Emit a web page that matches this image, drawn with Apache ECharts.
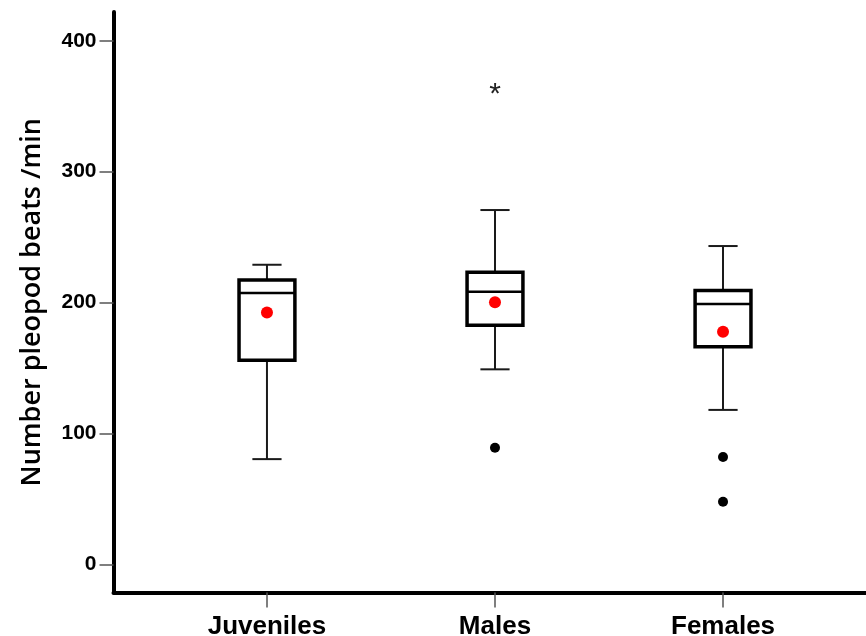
<!DOCTYPE html>
<html>
<head>
<meta charset="utf-8">
<script src="https://cdn.jsdelivr.net/npm/echarts@6/dist/echarts.min.js"></script>
<style>
html,body{margin:0;padding:0;background:#fff;}
#chart{width:866px;height:636px;}
</style>
</head>
<body>
<div id="chart"></div>
<script>
// ---- data ----
const categories = ['Juveniles', 'Males', 'Females'];
const whiskerLow  = [80.4, 149.0, 118.0];
const q1          = [156.0, 182.6, 166.2];
const median      = [207.3, 208.3, 198.9];
const q3          = [217.2, 223.1, 209.3];
const whiskerHigh = [228.9, 270.7, 243.2];
const means       = [192.5, 200.2, 177.7];
const outlierGroup = [2, 3, 3];          // 1-based category position
const outlierValue = [89.1, 82.0, 47.8];
const extremeGroup = [2];
const extremeValue = [362.3];
const yTicks = [0, 100, 200, 300, 400];
const yTitle = 'Number pleopod beats /min';

// ---- build series data ----
const boxData = categories.map((c, i) => [i + 1, whiskerLow[i], q1[i], median[i], q3[i], whiskerHigh[i]]);
const meanData = categories.map((c, i) => [i + 1, means[i]]);
const outlierData = outlierGroup.map((g, i) => [g, outlierValue[i]]);
const extremeData = extremeGroup.map((g, i) => [g, extremeValue[i]]);

const chart = echarts.init(document.getElementById('chart'), null, {renderer: 'canvas'});

function renderBox(params, api) {
  const x = api.value(0);
  const lo = api.coord([x, api.value(1)]);
  const b1 = api.coord([x, api.value(2)]);
  const md = api.coord([x, api.value(3)]);
  const b3 = api.coord([x, api.value(4)]);
  const hi = api.coord([x, api.value(5)]);
  const unit = api.size([1, 0])[0];
  const hw = unit * 0.1225;   // half box width
  const cw = unit * 0.064;    // half cap width
  const cx = lo[0];
  const thin = {stroke: '#1a1a1a', lineWidth: 2};
  return {
    type: 'group',
    children: [
      {type: 'line', shape: {x1: cx, y1: b3[1], x2: cx, y2: hi[1]}, style: thin},
      {type: 'line', shape: {x1: cx - cw, y1: hi[1], x2: cx + cw, y2: hi[1]}, style: thin},
      {type: 'line', shape: {x1: cx, y1: b1[1], x2: cx, y2: lo[1]}, style: thin},
      {type: 'line', shape: {x1: cx - cw, y1: lo[1], x2: cx + cw, y2: lo[1]}, style: thin},
      {type: 'rect', shape: {x: cx - hw, y: b3[1], width: hw * 2, height: b1[1] - b3[1]},
        style: {fill: '#fff', stroke: '#000', lineWidth: 3.5}},
      {type: 'line', shape: {x1: cx - hw, y1: md[1], x2: cx + hw, y2: md[1]},
        style: {stroke: '#000', lineWidth: 2.5}}
    ]
  };
}

const option = {
  animation: false,
  backgroundColor: '#fff',
  grid: {left: 113.5, right: 0, top: 12, bottom: 43.5, containLabel: false, outerBoundsMode: 'none'},
  xAxis: {
    type: 'value',
    min: 0.327, max: 3.627,
    splitLine: {show: false},
    axisLine: {show: true, onZero: false, lineStyle: {color: '#000', width: 4}},
    axisTick: {show: true, customValues: [1, 2, 3], length: 15, lineStyle: {color: '#555', width: 1.5}},
    axisLabel: {
      customValues: [1, 2, 3],
      formatter: v => categories[Math.round(v) - 1] || '',
      margin: 21,
      color: '#000', fontWeight: 'bold', fontSize: 26,
      fontFamily: '"Liberation Sans", Arial, sans-serif'
    }
  },
  yAxis: {
    type: 'value',
    min: -21.5, max: 422,
    splitLine: {show: false},
    axisLine: {show: true, onZero: false, lineStyle: {color: '#000', width: 4}},
    axisTick: {show: true, customValues: yTicks, length: 14, lineStyle: {color: '#555', width: 1.5}},
    axisLabel: {
      customValues: yTicks,
      margin: 17,
      color: '#000', fontWeight: 'bold', fontSize: 21,
      fontFamily: '"Liberation Sans", Arial, sans-serif'
    },
    name: yTitle,
    nameLocation: 'middle',
    nameGap: 68,
    nameTextStyle: {color: '#000', fontSize: 27, fontWeight: 600, fontFamily: '"Open Sans", sans-serif'}
  },
  series: [
    {type: 'custom', renderItem: renderBox, data: boxData, encode: {x: 0, y: [1, 2, 3, 4, 5]}, z: 2},
    {type: 'scatter', data: meanData, symbol: 'circle', symbolSize: 12,
      itemStyle: {color: '#ff0000', opacity: 1}, z: 3},
    {type: 'scatter', data: outlierData, symbol: 'circle', symbolSize: 10,
      itemStyle: {color: '#000', opacity: 1}, z: 3},
    {type: 'custom', data: extremeData, encode: {x: 0, y: 1}, z: 3,
      renderItem: function (params, api) {
        const p = api.coord([api.value(0), api.value(1)]);
        return {
          type: 'text',
          x: p[0], y: p[1] + 5,
          style: {text: '*', font: '30px "Liberation Sans", Arial, sans-serif',
            fill: '#222', align: 'center', verticalAlign: 'middle'}
        };
      }}
  ]
};
chart.setOption(option);
</script>
</body>
</html>
